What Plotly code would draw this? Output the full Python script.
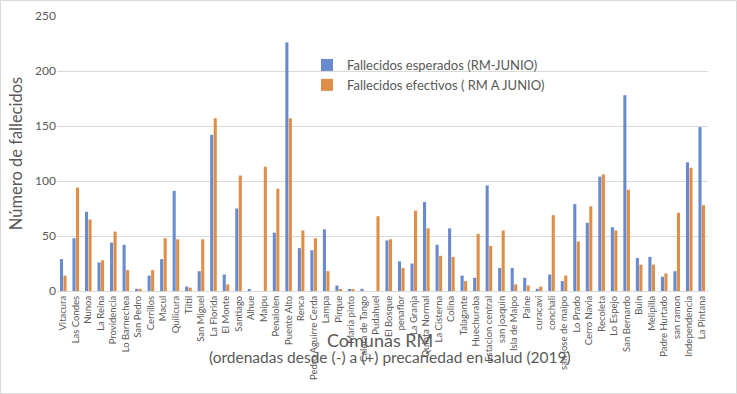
import plotly.graph_objects as go

comunas = ["Vitacura", "Las Condes", "Nunoa", "La Reina", "Providencia", "Lo Barnechea",
           "San Pedro", "Cerrillos", "Macul", "Quilicura", "Tiltil", "San Miguel",
           "La Florida", "El Monte", "Santiago", "Alhue", "Maipu", "Penalolen",
           "Puente Alto", "Renca", "Pedro Aguirre Cerda", "Lampa", "Pirque", "Maria pinto",
           "Calera de Tango", "Pudahuel", "El Bosque", "penaflor", "La Granja",
           "Quinta Normal", "La Cisterna", "Colina", "Talagante", "Huechuraba",
           "Estacion central", "san joaquin", "Isla de Maipo", "Paine", "curacavi",
           "conchali", "san jose de maipo", "Lo Prado", "Cerro Navia", "Recoleta",
           "Lo Espejo", "San Bernardo", "Buin", "Melipilla", "Padre Hurtado",
           "san ramon", "Independencia", "La Pintana"]

esperados = [29, 48, 72, 26, 44, 42, 2, 14, 29, 91, 4, 18, 142, 15, 75, 1, 0, 53,
             226, 39, 37, 56, 5, 1, 2, 0, 46, 27, 25, 81, 42, 57, 14, 12, 96, 21, 21,
             12, 2, 15, 9, 79, 62, 104, 58, 178, 30, 31, 13, 18, 117, 149]

efectivos = [14, 94, 65, 28, 54, 19, 2, 19, 48, 47, 3, 47, 157, 6, 105, 0, 113, 93,
             157, 55, 48, 18, 1, 1, 0, 68, 47, 21, 73, 57, 32, 31, 9, 52, 41, 55, 6,
             5, 4, 69, 14, 45, 77, 106, 55, 92, 24, 24, 16, 71, 112, 78]

y_ticks = [0, 50, 100, 150, 200, 250]

FONT = "Lato, 'Open Sans', sans-serif"
GREY = "#595959"

fig = go.Figure()
fig.add_trace(go.Bar(x=comunas, y=esperados, name="Fallecidos esperados (RM-JUNIO)",
                     marker=dict(color="#6A8AD0", line=dict(width=0))))
fig.add_trace(go.Bar(x=comunas, y=efectivos, name="Fallecidos efectivos ( RM A JUNIO)",
                     marker=dict(color="#DF8E47", line=dict(width=0))))

W, H = 737, 394
L, R, T, B = 57, 29, 16, 103
pw = W - L - R
ph = H - T - B

fig.update_layout(
    width=W, height=H,
    margin=dict(l=L, r=R, t=T, b=B),
    paper_bgcolor="white", plot_bgcolor="white",
    barmode="group", bargap=0.44, bargroupgap=0.12,
    font=dict(family=FONT, color=GREY),
    showlegend=True,
    legend=dict(x=(307 - L) / pw, y=(291 - 50) / ph, xanchor="left", yanchor="top",
                bgcolor="rgba(0,0,0,0)", font=dict(size=13, color=GREY),
                itemwidth=30, tracegroupgap=0),
    xaxis=dict(tickangle=-90, tickfont=dict(size=9.5, color=GREY), showgrid=False,
               showline=True, linecolor="#D9D9D9", linewidth=1, ticks="",
               automargin=False),
    yaxis=dict(range=[0, 250], tickvals=y_ticks, tickfont=dict(size=12, color=GREY),
               showgrid=True, gridcolor="#D9D9D9", gridwidth=1, zeroline=False,
               showline=False, ticks="", ticklen=0, automargin=False,
               title=dict(text="Número de fallecidos", font=dict(size=16.5, color=GREY),
                          standoff=8)),
    annotations=[
        dict(text="Comunas RM", xref="paper", yref="paper",
             x=(380 - L) / pw, y=(291 - 340) / ph, xanchor="center", yanchor="middle",
             showarrow=False, font=dict(size=18, color=GREY, family=FONT)),
        dict(text="(ordenadas desde (-) a (+) precariedad en salud (2019)", xref="paper",
             yref="paper", x=(390 - L) / pw, y=(291 - 357) / ph, xanchor="center",
             yanchor="middle", showarrow=False,
             font=dict(size=15.5, color=GREY, family=FONT)),
    ],
    shapes=[dict(type="rect", xref="paper", yref="paper",
                 x0=(0.5 - L) / pw, x1=(736.5 - L) / pw,
                 y0=(291 - 393.5) / ph, y1=(291 - 0.5) / ph,
                 line=dict(color="#D9D9D9", width=1), fillcolor="rgba(0,0,0,0)",
                 layer="below")],
)

fig.write_html("out.html", config={"displayModeBar": False},
               post_script="document.body.style.margin='0';")
